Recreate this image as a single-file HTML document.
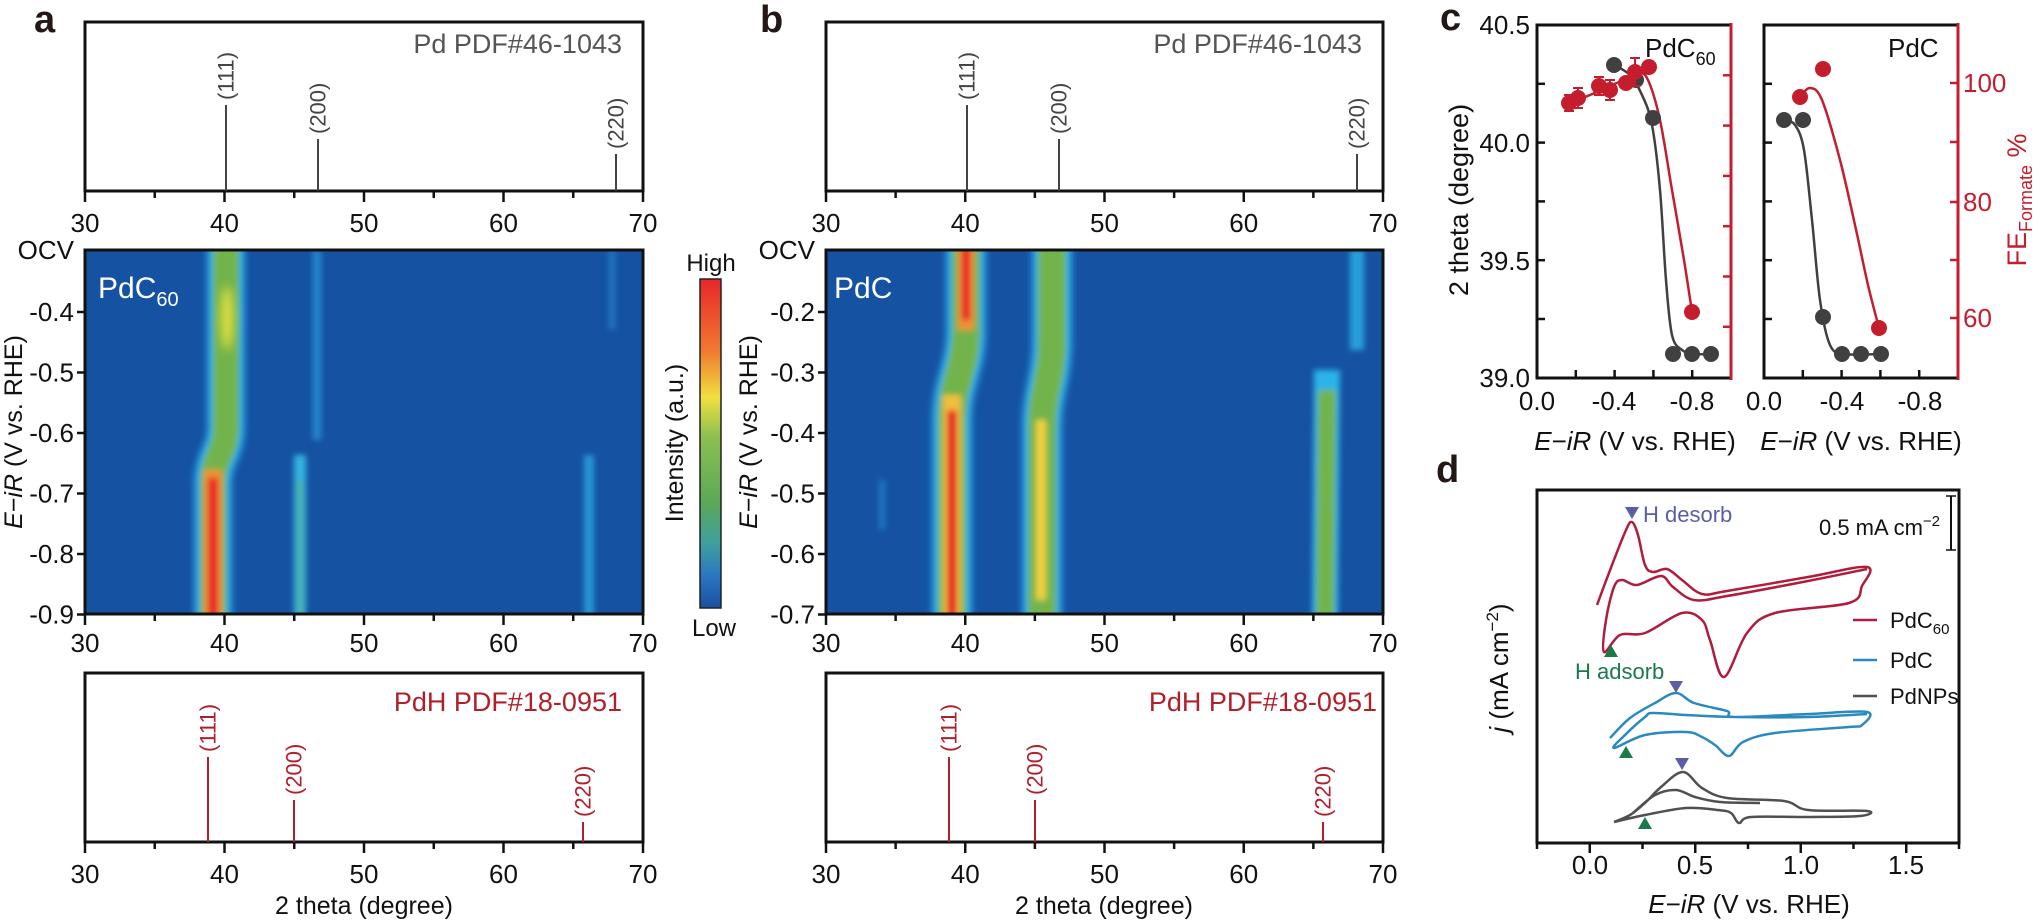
<!DOCTYPE html>
<html><head><meta charset="utf-8">
<style>
html,body{margin:0;padding:0;background:#fff;}
svg{display:block;font-family:"Liberation Sans",Arial,sans-serif;}
</style></head><body>
<svg id="s" width="2040" height="922" viewBox="0 0 2040 922" xmlns="http://www.w3.org/2000/svg">
<defs>
<filter id="bl" filterUnits="userSpaceOnUse" x="0" y="0" width="2040" height="922"><feGaussianBlur stdDeviation="3"/></filter>
<filter id="bl2" filterUnits="userSpaceOnUse" x="0" y="0" width="2040" height="922"><feGaussianBlur stdDeviation="5"/></filter>
<clipPath id="ca"><rect x="85" y="250" width="558" height="364"/></clipPath>
<clipPath id="cb"><rect x="826" y="250" width="557" height="364"/></clipPath>
<linearGradient id="cbar" x1="0" y1="0" x2="0" y2="1">
<stop offset="0" stop-color="#e8262a"/><stop offset="0.22" stop-color="#f07a30"/>
<stop offset="0.36" stop-color="#f0e040"/><stop offset="0.48" stop-color="#8cc050"/>
<stop offset="0.68" stop-color="#5aa858"/><stop offset="0.8" stop-color="#40a09c"/>
<stop offset="0.9" stop-color="#2a78c0"/><stop offset="1" stop-color="#1a4fa0"/>
</linearGradient>
</defs>

<g font-weight="bold" font-size="38" fill="#231815">
<text x="34" y="32">a</text><text x="760" y="32">b</text><text x="1440" y="30">c</text><text x="1436" y="482">d</text>
</g>

<!-- heatmap a -->
<rect x="85" y="250" width="558" height="364" fill="#1552a2"/>
<g clip-path="url(#ca)" fill="none">
 <g filter="url(#bl)">
  <path d="M226,240 L226,425 C226,455 213,455 213,485 L213,625" stroke="#2a8ed8" stroke-width="42" opacity="0.6"/>
  <path d="M226,240 L226,425 C226,455 213,455 213,485 L213,625" stroke="#2ab4e8" stroke-width="34"/>
  <path d="M226,240 L226,425 C226,455 213,455 213,485 L213,625" stroke="#72b44c" stroke-width="26"/>
  <path d="M213,470 L213,625" stroke="#f09030" stroke-width="18"/>
  <path d="M213,478 L213,625" stroke="#e8262a" stroke-width="10"/>
  <path d="M317,250 L317,440" stroke="#2a9ee0" stroke-width="9" opacity="0.65"/>
  <path d="M300,455 L300,625" stroke="#30b4e0" stroke-width="12"/>
  <path d="M300,480 L300,625" stroke="#50b0a0" stroke-width="6"/>
  <path d="M589,455 L589,625" stroke="#2aa8e0" stroke-width="10" opacity="0.8"/>
  <path d="M612,250 L612,330" stroke="#2a90d8" stroke-width="8" opacity="0.5"/>
 </g>
 <ellipse cx="227" cy="318" rx="6" ry="32" fill="#e8e040" filter="url(#bl2)"/>
</g>
<text x="98" y="298" font-size="30" fill="#fff">PdC<tspan font-size="20" dy="8">60</tspan></text>

<!-- heatmap b -->
<rect x="826" y="250" width="557" height="364" fill="#1552a2"/>
<g clip-path="url(#cb)" fill="none">
 <g filter="url(#bl)">
  <path d="M966,240 L966,330 C966,370 952,380 952,420 L952,625" stroke="#2a8ed8" stroke-width="44" opacity="0.6"/>
  <path d="M966,240 L966,330 C966,370 952,380 952,420 L952,625" stroke="#2ab4e8" stroke-width="36"/>
  <path d="M966,240 L966,330 C966,370 952,380 952,420 L952,625" stroke="#72b44c" stroke-width="28"/>
  <path d="M966,240 L966,330" stroke="#f09030" stroke-width="16"/>
  <path d="M966,240 L966,320" stroke="#e8262a" stroke-width="9"/>
  <path d="M952,395 L952,625" stroke="#f0c040" stroke-width="18"/>
  <path d="M952,410 L952,625" stroke="#e8262a" stroke-width="10"/>
  <path d="M1052,240 L1052,340 C1052,380 1042,390 1042,430 L1042,625" stroke="#2a8ed8" stroke-width="44" opacity="0.6"/>
  <path d="M1052,240 L1052,340 C1052,380 1042,390 1042,430 L1042,625" stroke="#2ab4e8" stroke-width="36"/>
  <path d="M1052,240 L1052,340 C1052,380 1042,390 1042,430 L1042,625" stroke="#72b44c" stroke-width="28"/>
  <path d="M1041,420 L1041,600" stroke="#f0d040" stroke-width="10"/>
  <path d="M1327,370 L1325,625" stroke="#2ab4e8" stroke-width="26"/>
  <path d="M1327,390 L1325,625" stroke="#72b44c" stroke-width="18"/>
  <path d="M1357,250 L1357,350" stroke="#2ab4e8" stroke-width="14" opacity="0.8"/>
  <path d="M882,480 L882,530" stroke="#2a90d8" stroke-width="6" opacity="0.6"/>
 </g>
</g>
<text x="834" y="298" font-size="30" fill="#fff">PdC</text>

<rect x="700" y="279" width="21" height="329" fill="url(#cbar)" stroke="#222" stroke-width="1.5"/>
<text x="711" y="271" font-size="24" text-anchor="middle" fill="#111">High</text>
<text x="714" y="636" font-size="24" text-anchor="middle" fill="#111">Low</text>
<text transform="translate(683,443) rotate(-90)" font-size="25" text-anchor="middle" fill="#111">Intensity (a.u.)</text>

<text transform="translate(22,432) rotate(-90)" font-size="25" text-anchor="middle" fill="#111"><tspan font-style="italic">E</tspan>−<tspan font-style="italic">iR</tspan> (V vs. RHE)</text>
<text transform="translate(757,432) rotate(-90)" font-size="25" text-anchor="middle" fill="#111"><tspan font-style="italic">E</tspan>−<tspan font-style="italic">iR</tspan> (V vs. RHE)</text>

<g fill="none" stroke="#111" stroke-width="3">
<rect x="85" y="22" width="558" height="169"/>
<rect x="826" y="22" width="557" height="169"/>
<rect x="85" y="673" width="558" height="169"/>
<rect x="826" y="673" width="557" height="169"/>
<rect x="85" y="250" width="558" height="364"/>
<rect x="826" y="250" width="557" height="364"/>
</g>
<g stroke="#444" stroke-width="2">
<line x1="226" y1="105" x2="226" y2="191"/><line x1="318" y1="139" x2="318" y2="191"/><line x1="616" y1="154" x2="616" y2="191"/>
<line x1="967" y1="105" x2="967" y2="191"/><line x1="1059" y1="139" x2="1059" y2="191"/><line x1="1357" y1="154" x2="1357" y2="191"/>
</g>
<g stroke="#b0202a" stroke-width="2">
<line x1="208" y1="757" x2="208" y2="842"/><line x1="294" y1="800" x2="294" y2="842"/><line x1="583" y1="822" x2="583" y2="842"/>
<line x1="949" y1="757" x2="949" y2="842"/><line x1="1035" y1="800" x2="1035" y2="842"/><line x1="1323" y1="822" x2="1323" y2="842"/>
</g>
<g font-size="22" fill="#444" dominant-baseline="central">
<text transform="translate(226,100) rotate(-90)">(111)</text>
<text transform="translate(318,134) rotate(-90)">(200)</text>
<text transform="translate(616,149) rotate(-90)">(220)</text>
<text transform="translate(967,100) rotate(-90)">(111)</text>
<text transform="translate(1059,134) rotate(-90)">(200)</text>
<text transform="translate(1357,149) rotate(-90)">(220)</text>
</g>
<g font-size="22" fill="#b0202a" dominant-baseline="central">
<text transform="translate(208,752) rotate(-90)">(111)</text>
<text transform="translate(294,795) rotate(-90)">(200)</text>
<text transform="translate(583,817) rotate(-90)">(220)</text>
<text transform="translate(949,752) rotate(-90)">(111)</text>
<text transform="translate(1035,795) rotate(-90)">(200)</text>
<text transform="translate(1323,817) rotate(-90)">(220)</text>
</g>
<g font-size="27" text-anchor="end">
<text x="622" y="53" fill="#555">Pd PDF#46-1043</text>
<text x="1362" y="53" fill="#555">Pd PDF#46-1043</text>
<text x="622" y="711" fill="#b0202a">PdH PDF#18-0951</text>
<text x="1377" y="711" fill="#b0202a">PdH PDF#18-0951</text>
</g>
<g font-size="25" text-anchor="middle" fill="#111">
<text x="364" y="914">2 theta (degree)</text>
<text x="1104" y="914">2 theta (degree)</text>
</g>

<g fill="none" stroke-width="3">
<path d="M1731,25 L1537,25 L1537,378 L1731,378" stroke="#111"/>
<line x1="1731" y1="23" x2="1731" y2="380" stroke="#c41e2e"/>
<path d="M1958,25 L1764,25 L1764,378 L1958,378" stroke="#111"/>
<line x1="1958" y1="23" x2="1958" y2="380" stroke="#c41e2e"/>
</g>
<g font-size="26" fill="#111" text-anchor="end">
<text x="1530" y="34">40.5</text><text x="1530" y="152">40.0</text><text x="1530" y="270">39.5</text><text x="1530" y="387">39.0</text>
</g>
<g font-size="26" fill="#c41e2e">
<text x="1963" y="92">100</text><text x="1963" y="211">80</text><text x="1963" y="327">60</text>
</g>
<g font-size="26" fill="#111" text-anchor="middle">
<text x="1537" y="410">0.0</text><text x="1614" y="410">-0.4</text><text x="1692" y="410">-0.8</text>
<text x="1764" y="410">0.0</text><text x="1842" y="410">-0.4</text><text x="1920" y="410">-0.8</text>
<text x="1635" y="450"><tspan font-style="italic">E</tspan>−<tspan font-style="italic">iR</tspan> (V vs. RHE)</text>
<text x="1861" y="450"><tspan font-style="italic">E</tspan>−<tspan font-style="italic">iR</tspan> (V vs. RHE)</text>
</g>
<text transform="translate(1468,200) rotate(-90)" font-size="27" text-anchor="middle" fill="#111">2 theta (degree)</text>
<text transform="translate(2026,200) rotate(-90)" font-size="27" text-anchor="middle" fill="#c41e2e">FE<tspan font-size="18" dy="6">Formate</tspan><tspan dy="-6"> %</tspan></text>
<text x="1645" y="57" font-size="26" fill="#111">PdC<tspan font-size="18" dy="8">60</tspan></text>
<text x="1888" y="57" font-size="26" fill="#111">PdC</text>
<g id="cdyn"></g>

<rect x="1537" y="490" width="422" height="353" fill="none" stroke="#111" stroke-width="3"/>
<g font-size="26" fill="#111" text-anchor="middle">
<text x="1590" y="874">0.0</text><text x="1695" y="874">0.5</text><text x="1801" y="874">1.0</text><text x="1906" y="874">1.5</text>
<text x="1749" y="913"><tspan font-style="italic">E</tspan>−<tspan font-style="italic">iR</tspan> (V vs. RHE)</text>
</g>
<text transform="translate(1508,668) rotate(-90)" font-size="26" text-anchor="middle" fill="#111"><tspan font-style="italic">j</tspan> (mA cm<tspan font-size="17" dy="-10">−2</tspan><tspan dy="10">)</tspan></text>
<line x1="1951" y1="496" x2="1951" y2="550" stroke="#111" stroke-width="2"/>
<line x1="1946" y1="496" x2="1956" y2="496" stroke="#111" stroke-width="1.5"/>
<line x1="1946" y1="550" x2="1956" y2="550" stroke="#111" stroke-width="1.5"/>
<text x="1940" y="535" font-size="22" text-anchor="end" fill="#111">0.5 mA cm<tspan font-size="15" dy="-9">−2</tspan></text>
<text x="1643" y="522" font-size="22" fill="#5b5ea6">H desorb</text>
<text x="1575" y="679" font-size="22" fill="#1a7a4a">H adsorb</text>
<g stroke-width="2.5">
<line x1="1853" y1="620" x2="1877" y2="620" stroke="#b01c3c"/>
<line x1="1853" y1="660" x2="1877" y2="660" stroke="#2a8ac0"/>
<line x1="1853" y1="696" x2="1877" y2="696" stroke="#505050"/>
</g>
<g font-size="22" fill="#111">
<text x="1890" y="628">PdC<tspan font-size="15" dy="6">60</tspan></text>
<text x="1890" y="668">PdC</text>
<text x="1890" y="704">PdNPs</text>
</g>
<g id="ddyn"></g>
<g id="ticks" stroke="#111" stroke-width="2.5"></g>
</svg>
<script>
function sm(p){var d="M"+p[0][0]+","+p[0][1];for(var i=0;i<p.length-1;i++){var a=p[i-1]||p[i],b=p[i],c=p[i+1],e=p[i+2]||c;
d+=" C"+(b[0]+(c[0]-a[0])/6).toFixed(1)+","+(b[1]+(c[1]-a[1])/6).toFixed(1)+" "+(c[0]-(e[0]-b[0])/6).toFixed(1)+","+(c[1]-(e[1]-b[1])/6).toFixed(1)+" "+c[0]+","+c[1];}return d;}
var T="";
function ln(x1,y1,x2,y2){T+='<line x1="'+x1+'" y1="'+y1+'" x2="'+x2+'" y2="'+y2+'"/>';}
var L="";
[[85,643,191],[826,1383,191],[85,643,614],[826,1383,614],[85,643,842],[826,1383,842]].forEach(function(a){
 var w=(a[1]-a[0])/8;for(var i=0;i<=8;i++){var x=a[0]+w*i;ln(x,a[2],x,a[2]+(i%2?7:11));}
 ["30","40","50","60","70"].forEach(function(t,i){L+='<text x="'+(a[0]+w*2*i)+'" y="'+(a[2]+(a[2]==614?38:41))+'">'+t+'</text>';});
});
var ya=["-0.4","-0.5","-0.6","-0.7","-0.8","-0.9"],yb=["-0.2","-0.3","-0.4","-0.5","-0.6","-0.7"];
var Y="";
for(var i=0;i<6;i++){var y=312+60.5*i;ln(85,y,77,y);ln(826,y,818,y);
Y+='<text x="74" y="'+(y+9)+'">'+ya[i]+'</text><text x="815" y="'+(y+9)+'">'+yb[i]+'</text>';}
Y+='<text x="74" y="259">OCV</text><text x="815" y="259">OCV</text>';
var C="";
[1537,1764].forEach(function(x0){for(var i=1;i<6;i++){var y=25+58.8*i;ln(x0,y,x0+8,y);}
 for(var k=1;k<5;k++){var x=x0+38.8*k;ln(x,378,x,370);}});
for(var i=1;i<7;i++){var y=25+50.3*i;C+='<line x1="1731" y1="'+y+'" x2="1723" y2="'+y+'" stroke="#c41e2e" stroke-width="2.5"/>';}
[83,142,202,260,318].forEach(function(y){C+='<line x1="1958" y1="'+y+'" x2="1950" y2="'+y+'" stroke="#c41e2e" stroke-width="2.5"/>';});
for(var k=0;k<9;k++){var x=1537+52.75*k;ln(x,843,x,843+(k%2?10:6));}
var R="#c41e2e",K="#404040";
C+='<path d="'+sm([[1569,103],[1590,95],[1610,86],[1628,78],[1638,72],[1648,80],[1660,120],[1672,190],[1684,260],[1692,312]])+'" fill="none" stroke="'+R+'" stroke-width="2.5"/>';
C+='<path d="'+sm([[1614,65],[1630,75],[1642,95],[1652,125],[1660,190],[1666,280],[1672,335],[1682,350],[1695,354],[1711,354]])+'" fill="none" stroke="'+K+'" stroke-width="2.5"/>';
C+='<path d="'+sm([[1800,97],[1810,88],[1822,100],[1840,160],[1855,225],[1868,285],[1879,328]])+'" fill="none" stroke="'+R+'" stroke-width="2.5"/>';
C+='<path d="'+sm([[1784,120],[1795,125],[1804,150],[1812,220],[1820,300],[1830,345],[1845,354],[1881,354]])+'" fill="none" stroke="'+K+'" stroke-width="2.5"/>';
[[1614,65],[1636,80],[1653,118],[1673,354],[1692,354],[1711,354],[1784,120],[1803,120],[1823,317],[1842,354],[1861,354],[1881,354]].forEach(function(p){C+='<circle cx="'+p[0]+'" cy="'+p[1]+'" r="8" fill="'+K+'"/>';});
[[1569,103,8],[1578,98,10],[1599,86,9],[1610,90,10],[1626,83,5],[1635,72,14],[1649,67,5],[1692,312,0],[1800,97,0],[1823,69,0],[1879,328,0]].forEach(function(p){
 if(p[2]){C+='<path d="M'+p[0]+','+(p[1]-p[2])+'V'+(p[1]+p[2])+'M'+(p[0]-5)+','+(p[1]-p[2])+'h10M'+(p[0]-5)+','+(p[1]+p[2])+'h10" stroke="'+R+'" stroke-width="2" fill="none"/>';}
 C+='<circle cx="'+p[0]+'" cy="'+p[1]+'" r="8" fill="'+R+'"/>';});
document.getElementById("cdyn").innerHTML=C;
var D="";
function cv(pts,col){D+='<path d="'+sm(pts)+'" fill="none" stroke="'+col+'" stroke-width="2.5" stroke-linejoin="round"/>';}
cv([[1597,605],[1612,565],[1626,530],[1632,522],[1638,535],[1645,565],[1653,572],[1667,569],[1682,580],[1702,594],[1727,591],[1808,577],[1867,567],[1862,586],[1849,603],[1775,613],[1747,633],[1724,677],[1710,640],[1702,620],[1682,613],[1645,633],[1620,635],[1604,652],[1606,620],[1614,587],[1622,580],[1637,585],[1661,576],[1673,587],[1694,600],[1727,596],[1808,581],[1867,569]],"#b01c3c");
cv([[1610,738],[1630,718],[1655,703],[1676,693],[1694,703],[1727,711],[1735,717],[1808,714],[1867,712],[1862,725],[1849,727],[1775,733],[1743,742],[1729,756],[1715,745],[1702,737],[1686,732],[1645,735],[1614,748],[1625,735],[1645,717],[1653,713],[1686,715],[1735,717],[1808,717],[1867,714]],"#2a8ac0");
cv([[1614,822],[1630,815],[1645,803],[1661,787],[1683,772],[1702,788],[1727,798],[1784,801],[1808,810],[1867,811],[1860,816],[1808,817],[1751,817],[1739,823],[1731,813],[1718,810],[1686,808],[1645,815],[1614,822]],"#505050");
cv([[1633,813],[1655,795],[1676,790],[1695,797],[1720,802],[1760,803]],"#505050");
[[1632,513],[1676,687],[1682,764]].forEach(function(p){D+='<path d="M'+(p[0]-7)+','+(p[1]-6)+'h14l-7,12z" fill="#5b5ea6"/>';});
[[1611,651],[1626,752],[1645,823]].forEach(function(p){D+='<path d="M'+(p[0]-7)+','+(p[1]+6)+'h14l-7,-12z" fill="#1a7a4a"/>';});
document.getElementById("ddyn").innerHTML=D;
document.getElementById("ticks").innerHTML=T;
var s=document.getElementById("s");
var g=document.createElementNS("http://www.w3.org/2000/svg","g");
g.setAttribute("font-size","26");g.setAttribute("text-anchor","middle");g.setAttribute("fill","#111");g.innerHTML=L;s.appendChild(g);
var g2=document.createElementNS("http://www.w3.org/2000/svg","g");
g2.setAttribute("font-size","26");g2.setAttribute("text-anchor","end");g2.setAttribute("fill","#111");g2.innerHTML=Y;s.appendChild(g2);
</script>
</body></html>
